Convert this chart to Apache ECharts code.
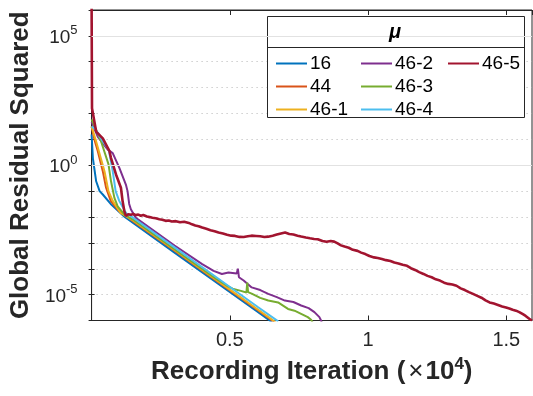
<!DOCTYPE html>
<html>
<head>
<meta charset="utf-8">
<script src="https://cdn.jsdelivr.net/npm/echarts@6/dist/echarts.min.js"></script>
<style>
  html, body { margin: 0; padding: 0; background: #fff; }
  #chart { width: 533px; height: 396px; }
</style>
</head>
<body>
<div id="chart"></div>
<script>
// ---- Data (x = recording iteration, y = global residual squared) ----
const seriesNames = ['16', '44', '46-1', '46-2', '46-3', '46-4', '46-5'];
const colors = ['#0072BD', '#D95319', '#EDB120', '#7E2F8E', '#77AC30', '#4DBEEE', '#A2142F'];

const x16 = [0, 47, 165, 290, 405, 692, 1200, 3000, 4500, 6000, 6520];
const y16 = [15.5, 1.86, 0.24, 0.1, 0.074, 0.032, 0.01, 4.2e-4, 3.0e-5, 2.17e-6, 8.7e-7];

const x44 = [0, 100, 225, 405, 524, 692, 1000, 1500, 3000, 4500, 6000, 6600];
const y44 = [31.6, 10, 3.5, 0.59, 0.135, 0.042, 0.0166, 6.9e-3, 4.97e-4, 3.56e-5, 2.55e-6, 8.9e-7];

const x461 = [0, 165, 466, 610, 764, 1050, 1500, 3000, 4500, 6000, 6650];
const y461 = [31.6, 8.3, 0.59, 0.1, 0.042, 0.0145, 7.4e-3, 5.3e-4, 3.8e-5, 2.73e-6, 8.7e-7];

const x462 = [0, 225, 585, 764, 1004, 1240, 1300, 1360, 1420, 1600, 3000, 4000, 4413, 4713, 4950, 5250, 5290, 5330, 5500, 5790, 6100, 6390, 6700, 6990, 7300, 7580, 7850, 8060, 8240, 8300, 8330];
const y462 = [49, 12.6, 4, 2.95, 0.79, 0.18, 0.1, 0.032, 0.02, 9.2e-3, 7.9e-4, 1.5e-4, 8.3e-5, 6.3e-5, 7.2e-5, 6.5e-5, 1.0e-4, 4.7e-5, 3.5e-5, 1.9e-5, 1.5e-5, 1.07e-5, 8e-6, 5.9e-6, 5.2e-6, 3.8e-6, 3.0e-6, 2.1e-6, 1.35e-6, 1.0e-6, 8e-7];

const x463 = [0, 344, 610, 703, 825, 943, 1200, 1500, 3000, 4500, 4900, 5100, 5400, 5600, 5630, 5660, 5790, 6100, 6390, 6745, 7105, 7340, 7580, 7820, 7940, 7990];
const y463 = [59, 8.3, 1.1, 0.24, 0.055, 0.026, 0.012, 8e-3, 5.7e-4, 4.1e-5, 2.2e-5, 1.7e-5, 1.4e-5, 1.2e-5, 2.9e-5, 1.25e-5, 1.1e-5, 7.5e-6, 5.9e-6, 5e-6, 2.8e-6, 2.4e-6, 1.8e-6, 1.35e-6, 1.07e-6, 8.5e-7];

const x464 = [0, 150, 405, 620, 764, 870, 1000, 1250, 1500, 3000, 4500, 6000, 6750];
const y464 = [31.6, 24, 8.3, 4, 0.59, 0.1, 0.042, 0.014, 9.4e-3, 6.7e-4, 4.8e-5, 3.4e-6, 9.2e-7];

const x465 = [0, 15, 165, 405, 646, 703, 883, 1061, 1120, 1184, 1241, 1330, 1420, 1510, 1600, 1690, 1780, 1870, 2000, 2100, 2199, 2320, 2450, 2560, 2677, 2790, 2900, 3050, 3200, 3350, 3515, 3630, 3750, 3870, 4000, 4150, 4300, 4450, 4592, 4750, 4900, 5050, 5190, 5350, 5500, 5650, 5785, 5950, 6100, 6250, 6385, 6550, 6700, 6850, 7000, 7150, 7300, 7450, 7580, 7750, 7900, 8050, 8180, 8350, 8500, 8650, 8775, 8900, 9020, 9150, 9300, 9450, 9620, 9750, 9900, 10050, 10215, 10350, 10500, 10650, 10810, 10950, 11100, 11250, 11410, 11550, 11700, 11850, 12005, 12150, 12300, 12450, 12600, 12750, 12900, 13050, 13200, 13350, 13500, 13650, 13795, 13950, 14100, 14250, 14395, 14550, 14700, 14850, 14990, 15110, 15230, 15350, 15470, 15600, 15700, 15830, 15930];
const y465 = [2e6, 160, 20, 11, 3.5, 1.9, 0.44, 0.135, 0.042, 0.017, 0.011, 0.0128, 0.0122, 0.0131, 0.0118, 0.0124, 0.0112, 0.0119, 0.0104, 0.0099, 0.0093, 0.0089, 0.0082, 0.0078, 0.0071, 0.0073, 0.0067, 0.0069, 0.0063, 0.0066, 0.0059, 0.0052, 0.0047, 0.0044, 0.0039, 0.0035, 0.0031, 0.0028, 0.0025, 0.0023, 0.00205, 0.0019, 0.00186, 0.0017, 0.00168, 0.0018, 0.0019, 0.00185, 0.0018, 0.00168, 0.00174, 0.0019, 0.0021, 0.0023, 0.0025, 0.0022, 0.0021, 0.0019, 0.00175, 0.0016, 0.0015, 0.00142, 0.00138, 0.00118, 0.0011, 0.00118, 0.00112, 0.00095, 8e-4, 7.2e-4, 6.5e-4, 5.4e-4, 4.9e-4, 4.2e-4, 3.7e-4, 3.1e-4, 2.75e-4, 2.6e-4, 2.4e-4, 2.15e-4, 2e-4, 1.75e-4, 1.6e-4, 1.42e-4, 1.3e-4, 1.05e-4, 9e-5, 7.4e-5, 6.3e-5, 5.3e-5, 4.7e-5, 3.9e-5, 3.5e-5, 2.9e-5, 2.6e-5, 2.45e-5, 2.2e-5, 1.75e-5, 1.5e-5, 1.25e-5, 1.07e-5, 9e-6, 7.6e-6, 6e-6, 5e-6, 4.5e-6, 4e-6, 3.5e-6, 3.2e-6, 2.9e-6, 2.6e-6, 2.4e-6, 2.1e-6, 1.75e-6, 1.5e-6, 1.17e-6, 1.0e-6];

const xs = [x16, x44, x461, x462, x463, x464, x465];
const ys = [y16, y44, y461, y462, y463, y464, y465];

const xMin = 0, xMax = 15930, xInterval = 5000;
const yMin = 1e-6, yMax = 1e6;
const majorLogTicks = [1e-5, 1, 1e5];

const legendCols = [['16', '44', '46-1'], ['46-2', '46-3', '46-4'], ['46-5']];

// ---- Chart ----
const FONT = "'Liberation Sans', Arial, Helvetica, sans-serif";
const AX = '#262626';
const chart = echarts.init(document.getElementById('chart'), null, { renderer: 'canvas' });

const series = seriesNames.map((name, i) => ({
  name: name,
  type: 'line',
  data: xs[i].map((x, k) => [x, ys[i][k]]),
  showSymbol: false,
  symbol: 'none',
  lineStyle: { width: i === 6 ? 2.6 : 2, color: colors[i] },
  itemStyle: { color: colors[i] },
  z: 3,
  clip: true,
  animation: false
}));

series.unshift({
  name: '__grid',
  type: 'line',
  data: [],
  silent: true,
  z: 1,
  markLine: {
    silent: true,
    symbol: 'none',
    label: { show: false },
    lineStyle: { type: 'solid', color: '#e2e2e2', width: 1 },
    data: majorLogTicks.map(v => ({ yAxis: v })),
    animation: false
  }
});

const legends = legendCols.map((col, c) => ({
  orient: 'vertical',
  left: [271, 356, 443][c],
  top: 49,
  icon: 'rect',
  itemWidth: 31,
  itemHeight: 2,
  itemGap: 4,
  data: col,
  selectedMode: false,
  textStyle: { fontFamily: FONT, fontSize: 19, color: '#000', padding: [0, 0, 0, -2] },
  z: 10
}));

const option = {
  animation: false,
  backgroundColor: '#fff',
  color: colors,
  grid: {
    left: 88.5, right: 1, top: 10, bottom: 75.5,
    show: true, borderColor: AX, borderWidth: 1, backgroundColor: 'transparent'
  },
  legend: legends,
  graphic: [
    { type: 'rect', shape: { x: 267.5, y: 16.5, width: 257, height: 101 },
      style: { fill: '#fff', stroke: AX, lineWidth: 1 }, z: 5 },
    { type: 'line', shape: { x1: 267.5, y1: 47.5, x2: 524.5, y2: 47.5 },
      style: { stroke: AX, lineWidth: 1 }, z: 6 },
    { type: 'text', x: 395, y: 32, style: { text: 'μ', fontFamily: FONT, fontSize: 20, fontWeight: 'bold', fontStyle: 'italic', fill: '#000', align: 'center', verticalAlign: 'middle' }, z: 6 }
  ],
  xAxis: [{
    type: 'value', min: xMin, max: xMax, interval: xInterval,
    position: 'bottom',
    axisLine: { show: true, lineStyle: { color: AX, width: 1 } },
    axisTick: { show: true, inside: true, length: 5, lineStyle: { color: AX } },
    splitLine: { show: false },
    axisLabel: {
      fontFamily: FONT, fontSize: 20, color: AX, margin: 10,
      showMinLabel: false, showMaxLabel: false,
      formatter: v => (v === 0 ? '' : String(v / 1e4))
    },
    name: '{a|Recording Iteration (}{x|×}{a|10}{s|4}{a|)}',
    nameLocation: 'middle',
    nameGap: 28,
    nameTextStyle: {
      rich: {
        a: { fontFamily: FONT, fontSize: 26, fontWeight: 'bold', color: AX, verticalAlign: 'bottom' },
        x: { fontFamily: FONT, fontSize: 26, fontWeight: 'normal', color: AX, verticalAlign: 'bottom', padding: [0, 2, 0, 3] },
        s: { fontFamily: FONT, fontSize: 17, fontWeight: 'bold', color: AX, verticalAlign: 'bottom', padding: [0, 0, 12, 0] }
      }
    }
  }, {
    type: 'value', min: xMin, max: xMax, interval: xInterval,
    position: 'top',
    axisLine: { show: true, lineStyle: { color: AX, width: 1 } },
    axisTick: { show: true, inside: true, length: 5, lineStyle: { color: AX } },
    splitLine: { show: false },
    axisLabel: { show: false }
  }],
  yAxis: [{
    type: 'log', logBase: 10, min: yMin, max: yMax, interval: 1,
    position: 'left',
    axisLine: { show: true, lineStyle: { color: AX, width: 1 } },
    axisTick: { show: true, inside: true, length: 3, lineStyle: { color: AX } },
    splitLine: { show: true, lineStyle: { type: [1, 4], color: '#b5b5b5', width: 1 } },
    axisLabel: {
      margin: 14,
      formatter: v => {
        const e = Math.round(Math.log10(v));
        if (e % 5 !== 0 || Math.abs(e) > 5) return '';
        return '{b|10}{s|' + e + '}';
      },
      rich: {
        b: { fontFamily: FONT, fontSize: 19, color: AX, verticalAlign: 'bottom' },
        s: { fontFamily: FONT, fontSize: 13, color: AX, verticalAlign: 'bottom', padding: [0, 0, 10, 0] }
      }
    },
    name: 'Global Residual Squared',
    nameLocation: 'middle',
    nameGap: 52,
    nameTextStyle: { fontFamily: FONT, fontSize: 26, fontWeight: 'bold', color: AX }
  }, {
    type: 'log', logBase: 10, min: yMin, max: yMax, interval: 1,
    position: 'right',
    axisLine: { show: true, lineStyle: { color: AX, width: 1 } },
    axisTick: { show: true, inside: true, length: 3, lineStyle: { color: AX } },
    splitLine: { show: false },
    axisLabel: { show: false }
  }],
  series: series
};

chart.setOption(option);
</script>
</body>
</html>
